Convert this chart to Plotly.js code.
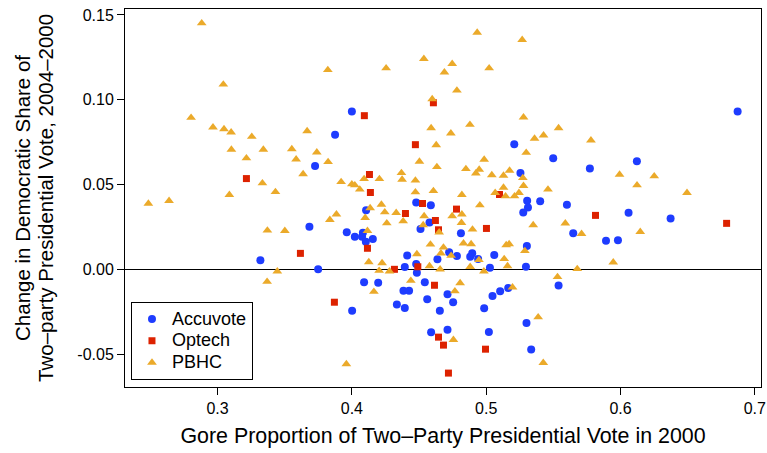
<!DOCTYPE html>
<html>
<head>
<meta charset="utf-8">
<script src="https://cdn.plot.ly/plotly-3.0.1.min.js"></script>
<style>html,body{margin:0;padding:0;background:#fff;}#chart{width:767px;height:453px;}</style>
</head>
<body>
<div id="chart"></div>
<script>
// Accuvote (circles)
const accuX = [0.3875,0.3726,0.4000,0.5209,0.5255,0.5305,0.5402,0.4479,0.5499,0.6872,
  0.5772,0.6122,0.3684,0.3319,0.3749,0.3962,0.4106,0.4022,0.4082,0.4076,
  0.4104,0.4156,0.4588,0.4578,0.4511,0.4412,0.4479,0.4484,0.4394,0.4637,
  0.4724,0.4091,0.4196,0.4543,0.4384,0.4426,0.4812,0.4782,0.4881,0.4896,
  0.4940,0.5060,0.5028,0.5303,0.5296,0.5311,0.5276,0.5601,0.5539,0.4002,
  0.4335,0.4394,0.4561,0.4712,0.4754,0.4655,0.4590,0.4712,0.5047,0.5104,
  0.5164,0.4985,0.5300,0.5020,0.5335,0.6060,0.6373,0.5648,0.5892,0.5981];
const accuY = [0.0794,0.0609,0.0931,0.0737,0.0568,0.0404,0.0402,0.0394,0.0655,0.0931,
  0.0594,0.0637,0.0251,0.0053,0.0000,0.0218,0.0349,0.0192,0.0215,0.0192,
  0.0162,0.0178,0.0378,0.0276,0.0237,0.0082,0.0031,-0.0020,0.0014,0.0059,
  0.0100,-0.0076,-0.0079,-0.0076,-0.0126,-0.0126,0.0212,0.0078,0.0074,0.0094,
  0.0061,0.0084,0.0009,0.0137,0.0015,0.0365,0.0335,0.0380,-0.0096,-0.0245,
  -0.0208,-0.0228,-0.0176,-0.0147,-0.0194,-0.0244,-0.0371,-0.0357,-0.0157,-0.0129,
  -0.0110,-0.0229,-0.0316,-0.0369,-0.0473,0.0333,0.0300,0.0212,0.0168,0.0172];

// Optech (squares)
const optX = [0.3215,0.4607,0.4093,0.4473,0.4131,0.4138,0.5099,0.3617,0.3870,0.4399,
  0.4526,0.4622,0.4645,0.4116,0.4317,0.4491,0.4615,0.4779,0.5002,0.4645,
  0.4682,0.4719,0.4995,0.5814,0.6790];
const optY = [0.0535,0.0982,0.0906,0.0735,0.0559,0.0453,0.0441,0.0094,-0.0194,0.0329,
  0.0388,0.0288,0.0233,0.0124,0.0000,0.0015,-0.0094,0.0355,0.0241,-0.0400,
  -0.0447,-0.0612,-0.0471,0.0318,0.0271];

// PBHC (triangles)
const pbhcX = [0.2882,0.3821,0.3043,0.2803,0.2966,0.3048,0.3101,0.3255,0.3667,0.3103,
  0.3341,0.3553,0.3739,0.3215,0.3585,0.3823,0.3637,0.3334,0.3431,0.3088,
  0.2485,0.2639,0.4933,0.5268,0.4536,0.4747,0.4255,0.4689,0.5022,0.4782,
  0.4598,0.5278,0.4590,0.4879,0.4737,0.4628,0.5360,0.5427,0.5298,0.4985,
  0.4503,0.4633,0.4849,0.4923,0.4948,0.5042,0.5129,0.5174,0.5273,0.4369,
  0.4374,0.4473,0.4205,0.4091,0.3920,0.4000,0.4022,0.4059,0.4473,0.4607,
  0.4819,0.5067,0.5129,0.5144,0.5278,0.5211,0.5244,0.5460,0.5539,0.5780,
  0.5993,0.6251,0.6123,0.6495,0.3371,0.3501,0.3836,0.3885,0.3445,0.3369,
  0.3959,0.4136,0.4220,0.4245,0.4330,0.4099,0.4260,0.4382,0.4538,0.4747,
  0.4116,0.4531,0.4650,0.4585,0.4682,0.4663,0.4739,0.4484,0.4126,0.4225,
  0.4203,0.4280,0.4578,0.4439,0.4657,0.4953,0.4819,0.4816,0.4898,0.5350,
  0.5589,0.4831,0.4888,0.5149,0.5171,0.5288,0.4946,0.5134,0.5159,0.4881,
  0.4983,0.4806,0.5531,0.5196,0.4164,0.4767,0.4756,0.5387,0.5425,0.5710,
  0.6147,0.5946,0.5678];
const pbhcY = [0.1451,0.1176,0.1090,0.0894,0.0837,0.0827,0.0808,0.0782,0.0815,0.0706,
  0.0706,0.0709,0.0690,0.0655,0.0649,0.0633,0.0562,0.0508,0.0456,0.0439,
  0.0388,0.0404,0.1396,0.1353,0.1241,0.1212,0.1186,0.1162,0.1186,0.1055,
  0.1004,0.0896,0.0833,0.0853,0.0802,0.0733,0.0771,0.0790,0.0688,0.0647,
  0.0635,0.0604,0.0592,0.0566,0.0588,0.0556,0.0553,0.0582,0.0539,0.0568,
  0.0529,0.0524,0.0533,0.0533,0.0515,0.0502,0.0496,0.0471,0.0455,0.0462,
  0.0439,0.0451,0.0482,0.0431,0.0492,0.0431,0.0451,0.0471,0.0833,0.0761,
  0.0559,0.0549,0.0496,0.0451,0.0229,0.0227,0.0292,0.0324,-0.0012,-0.0073,
  -0.0559,0.0361,0.0382,0.0337,0.0333,0.0304,0.0272,0.0284,0.0314,0.0314,
  0.0227,0.0261,0.0218,0.0147,0.0129,0.0094,0.0080,0.0090,0.0043,0.0037,
  -0.0008,-0.0012,0.0019,-0.0067,0.0000,0.0378,0.0324,0.0274,0.0235,0.0261,
  0.0271,0.0153,0.0149,0.0143,0.0149,0.0108,0.0055,0.0061,0.0019,0.0015,
  -0.0012,-0.0081,-0.0045,-0.0106,-0.0132,-0.0129,-0.0416,-0.0282,-0.0551,0.0209,
  0.0221,0.0041,0.0002];

const xTicks = [0.3,0.4,0.5,0.6,0.7];
const xTickText = ['0.3','0.4','0.5','0.6','0.7'];
const yTicks = [-0.05,0,0.05,0.10,0.15];
const yTickText = ['-0.05','0.00','0.05','0.10','0.15'];
const yTitleLines = ['Change in Democratic Share of', 'Two–party Presidential Vote, 2004–2000'];
const seriesNames = ['Accuvote','Optech','PBHC'];

const FONT = 'Liberation Sans, Arial, Helvetica, sans-serif';
const legendName = s => '<span style="font-size:18px">' + s + '</span>';

const traces = [
  {x: accuX, y: accuY, type:'scatter', mode:'markers', name:legendName(seriesNames[0]),
   marker:{symbol:'circle', size:8, color:'#1E3CFF'}},
  {x: optX, y: optY, type:'scatter', mode:'markers', name:legendName(seriesNames[1]),
   marker:{symbol:'square', size:7, color:'#DD2200'}},
  {x: pbhcX, y: pbhcY, type:'scatter', mode:'markers', name:legendName(seriesNames[2]),
   marker:{symbol:'triangle-up', size:8.5, color:'#EBAA2A'}}
];

const layout = {
  width:767, height:453,
  margin:{l:125, r:6, t:9, b:66, pad:0},
  paper_bgcolor:'#fff', plot_bgcolor:'#fff',
  font:{family:FONT, color:'#000', size:16},
  showlegend:true,
  legend:{x:0.0094, y:0.2242, xanchor:'left', yanchor:'top',
    bordercolor:'#000', borderwidth:1, bgcolor:'#fff',
    font:{family:FONT, size:14.4, color:'#000'}, itemwidth:30, tracegroupgap:0},
  xaxis:{range:[0.2311,0.7046], tickvals:xTicks, ticktext:xTickText,
    showline:true, mirror:true, linecolor:'#000', linewidth:1,
    ticks:'outside', ticklen:7, tickcolor:'#000', tickwidth:1,
    showgrid:false, zeroline:false,
    tickfont:{family:FONT, size:16, color:'#000'},
    title:{text:'Gore Proportion of Two–Party Presidential Vote in 2000',
      font:{family:FONT, size:21.4, color:'#000'}, standoff:11}},
  yaxis:{range:[-0.0694,0.1535], tickvals:yTicks, ticktext:yTickText,
    showline:true, mirror:true, linecolor:'#000', linewidth:1,
    ticks:'outside', ticklen:7, tickcolor:'#000', tickwidth:1,
    showgrid:false, zeroline:true, zerolinecolor:'#000', zerolinewidth:1,
    tickfont:{family:FONT, size:16, color:'#000'}},
  annotations:[
    {text:yTitleLines[0], textangle:-90, xref:'paper', yref:'paper',
     x:(22-125)/635.7, y:0.5, xanchor:'center', yanchor:'middle', showarrow:false,
     font:{family:FONT, size:20.5, color:'#000'}},
    {text:yTitleLines[1], textangle:-90, xref:'paper', yref:'paper',
     x:(45-125)/635.7, y:0.5, xanchor:'center', yanchor:'middle', showarrow:false,
     font:{family:FONT, size:20.5, color:'#000'}}
  ]
};

Plotly.newPlot('chart', traces, layout, {displayModeBar:false, staticPlot:true});
</script>
</body>
</html>
